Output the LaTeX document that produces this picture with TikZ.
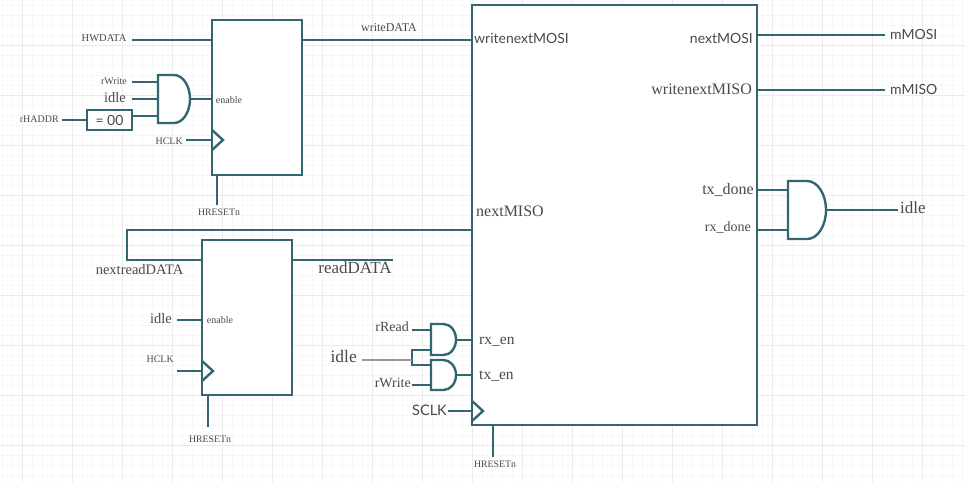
\documentclass[tikz,border=0pt]{standalone}
\usepackage{fontspec}
\setmainfont{Liberation Serif}
\newfontfamily\lato{Lato}
\usetikzlibrary{calc}

\definecolor{wirecol}{HTML}{33666F}
\definecolor{txtcol}{HTML}{4A4A4A}
\definecolor{minorgrid}{HTML}{F7F7F7}
\definecolor{majorgrid}{HTML}{EBEBEB}

\tikzset{
    wire/.style = {draw=wirecol, line width=2.5pt},
    greywire/.style = {draw=black!40, line width=2.5pt},
    block/.style = {draw=wirecol, line width=2.8pt, fill=white, inner sep=0pt, outer sep=0pt, anchor=north west},
    sig/.style = {text=txtcol, inner sep=0pt, font=\fontsize{#1}{#1}\selectfont},
    sig/.default = 10pt,
    sigl/.style = {text=txtcol, inner sep=0pt, font=\lato\fontsize{#1}{#1}\selectfont},
    sigl/.default = 14pt,
    gatebox/.style = {inner sep=0pt, outer sep=0pt, anchor=north west}
}

% name, top left corner, width, height
\newcommand{\andgate}[4]{
    \node[gatebox, minimum width=#3pt, minimum height=#4pt] (#1) at (#2) {};
    \draw[wirecol, line width=2.4pt, fill=white] (#1.north west) -- ++(0.5*#3pt,0pt)
        arc[start angle=90, end angle=-90, x radius=0.5*#3pt, y radius=0.5*#4pt]
        -- (#1.south west) -- cycle;
}
% clock triangle sitting on a block edge
\newcommand{\clocktip}[1]{
    \draw[wirecol, line width=2.4pt] ($(#1)+(0pt,10pt)$) -- ($(#1)+(11pt,0pt)$) -- ($(#1)+(0pt,-10pt)$);
}

\begin{document}
\begin{tikzpicture}[x=1pt, y=-1pt]
\useasboundingbox (0,0) rectangle (965,482);
\fill[white] (0,0) rectangle (965,482);

% background grid
\foreach \x in {2.5,12.5,...,962.5} \draw[minorgrid, line width=0.8pt] (\x,0) -- (\x,482);
\foreach \y in {5,15,...,475} \draw[minorgrid, line width=0.8pt] (0,\y) -- (965,\y);
\foreach \x in {22.5,72.5,...,922.5} \draw[majorgrid, line width=0.8pt] (\x,0) -- (\x,482);
\foreach \y in {45,95,...,445} \draw[majorgrid, line width=0.8pt] (0,\y) -- (965,\y);

% free wire ends
\foreach \name/\x/\y in {hwdata/132/40, rwrA/132/82, idleA/132/99, raddr/62/120, hclkA/186/140, rstA/217/205,
    rdata/393/260, idleB/177/320, hclkB/177/371, rstB/208/427,
    rreadC/412/330, rwriteC/412/385, forkT/412/350, forkM/412/360, forkB/412/365, idleC/362/360,
    sclk/448/411, rstC/493/457, mosi/885/35, miso/885/90, idleD/898/210, loopT/127/230, loopB/127/260}
    \coordinate (\name) at (\x,\y);

% blocks
\node[block, minimum width=90pt, minimum height=155pt] (writeReg) at (212,20) {};
\node[block, minimum width=90pt, minimum height=155pt] (readReg) at (202,240) {};
\node[block, minimum width=285pt, minimum height=420pt] (spi) at (472,5) {};
\node[block, line width=2.5pt, minimum width=45pt, minimum height=20pt, anchor=center] (cmp) at (109.5,120) {\lato\color{txtcol}\fontsize{14pt}{14pt}\selectfont = 00};

% wires
\path[wire] (hwdata) edge (hwdata -| writeReg.west)
    (writeReg.east |- hwdata) edge (hwdata -| spi.west)
    (raddr) edge (raddr -| cmp.west)
    (hclkA) edge (hclkA -| writeReg.west)
    (rstA) edge (rstA |- writeReg.south)
    (rdata) edge (rdata -| readReg.east)
    (idleB) edge (idleB -| readReg.west)
    (hclkB) edge (hclkB -| readReg.west)
    (rstB) edge (rstB |- readReg.south)
    (sclk) edge (sclk -| spi.west)
    (rstC) edge (rstC |- spi.south)
    (mosi) edge (mosi -| spi.east)
    (miso) edge (miso -| spi.east);
\draw[wire, line cap=round] (spi.west |- loopT) -- (loopT) -- (loopB) -- (loopB -| readReg.west);

% gates
\andgate{gateW}{158,75}{32}{48}
\andgate{gateR}{431,324}{25}{31}
\andgate{gateT}{431,360}{25}{30}
\andgate{gateI}{788,181}{38}{58}

\path[wire] (rwrA) edge (rwrA -| gateW.west)
    (idleA) edge (idleA -| gateW.west)
    (cmp.east |- 0,116) edge (gateW.west |- 0,116)
    (gateW.east) edge (gateW.east -| writeReg.west)
    (rreadC) edge (rreadC -| gateR.west)
    (rwriteC) edge (rwriteC -| gateT.west)
    (gateR.east |- 0,340) edge (spi.west |- 0,340)
    (gateT.east |- 0,375) edge (spi.west |- 0,375)
    (spi.east |- 0,190) edge (gateI.west |- 0,190)
    (spi.east |- 0,230) edge (gateI.west |- 0,230)
    (gateI.east) edge (idleD);
\draw[wire] (forkT -| gateR.west) -- (forkT) -- (forkB) -- (forkB -| gateT.west);
\draw[greywire] (idleC) -- (forkM);

% clock pins
\clocktip{hclkA -| writeReg.west}
\clocktip{hclkB -| readReg.west}
\clocktip{sclk -| spi.west}

% labels
\node[sig=10.5] (lHwdata) at (104,38) {HWDATA};
\node[sig, anchor=east] (lRwrA) at (127,81) {rWrite};
\node[sig=14.5] (lIdleA) at (115,98) {idle};
\node[sig, anchor=east] (lRaddr) at (59,119) {rHADDR};
\node[sig] (lEnA) at (229,100) {enable};
\node[sig, anchor=east] (lHclkA) at (183,141) {HCLK};
\node[sig=9.8] (lRstA) at (219,212) {HRESETn};
\node[sig=12] (lWdata) at (389,28) {writeDATA};
\node[sigl=14, anchor=west] (lWnm) at (474,38) {writenextMOSI};
\node[sigl=14, anchor=east] (lNm) at (753,38) {nextMOSI};
\node[sig=16, anchor=east] (lWnmi) at (752,89) {writenextMISO};
\node[sigl, anchor=west] (lMosi) at (890,34) {mMOSI};
\node[sigl, anchor=west] (lMiso) at (890,89) {mMISO};
\node[sig=16, anchor=east] (lTxd) at (754,190) {tx\_done};
\node[sig=14, anchor=east] (lRxd) at (751,228) {rx\_done};
\node[sig=17, anchor=west] (lIdleD) at (900,208) {idle};
\node[sig=16, anchor=west] (lNmi) at (476,211) {nextMISO};
\node[sig=14.5] (lNrd) at (139.5,270) {nextreadDATA};
\node[sig=17] (lRd) at (355,268) {readDATA};
\node[sig=14.5, anchor=east] (lIdleB) at (172,319) {idle};
\node[sig] (lEnB) at (220,320) {enable};
\node[sig, anchor=east] (lHclkB) at (174,359) {HCLK};
\node[sig=9.8] (lRstB) at (210,439) {HRESETn};
\node[sig=14, anchor=east] (lRread) at (409,327) {rRead};
\node[sig=17.5, anchor=east] (lIdleC) at (357,357) {idle};
\node[sig=14, anchor=east] (lRwrC) at (411,383) {rWrite};
\node[sig=15.5, anchor=west] (lRxen) at (479,342) {rx\_en};
\node[sig=15.5, anchor=west] (lTxen) at (479,376) {tx\_en};
\node[sigl=14.5, anchor=east] (lSclk) at (447,410) {SCLK};
\node[sig=9.8] (lRstC) at (495,464) {HRESETn};
\end{tikzpicture}
\end{document}
